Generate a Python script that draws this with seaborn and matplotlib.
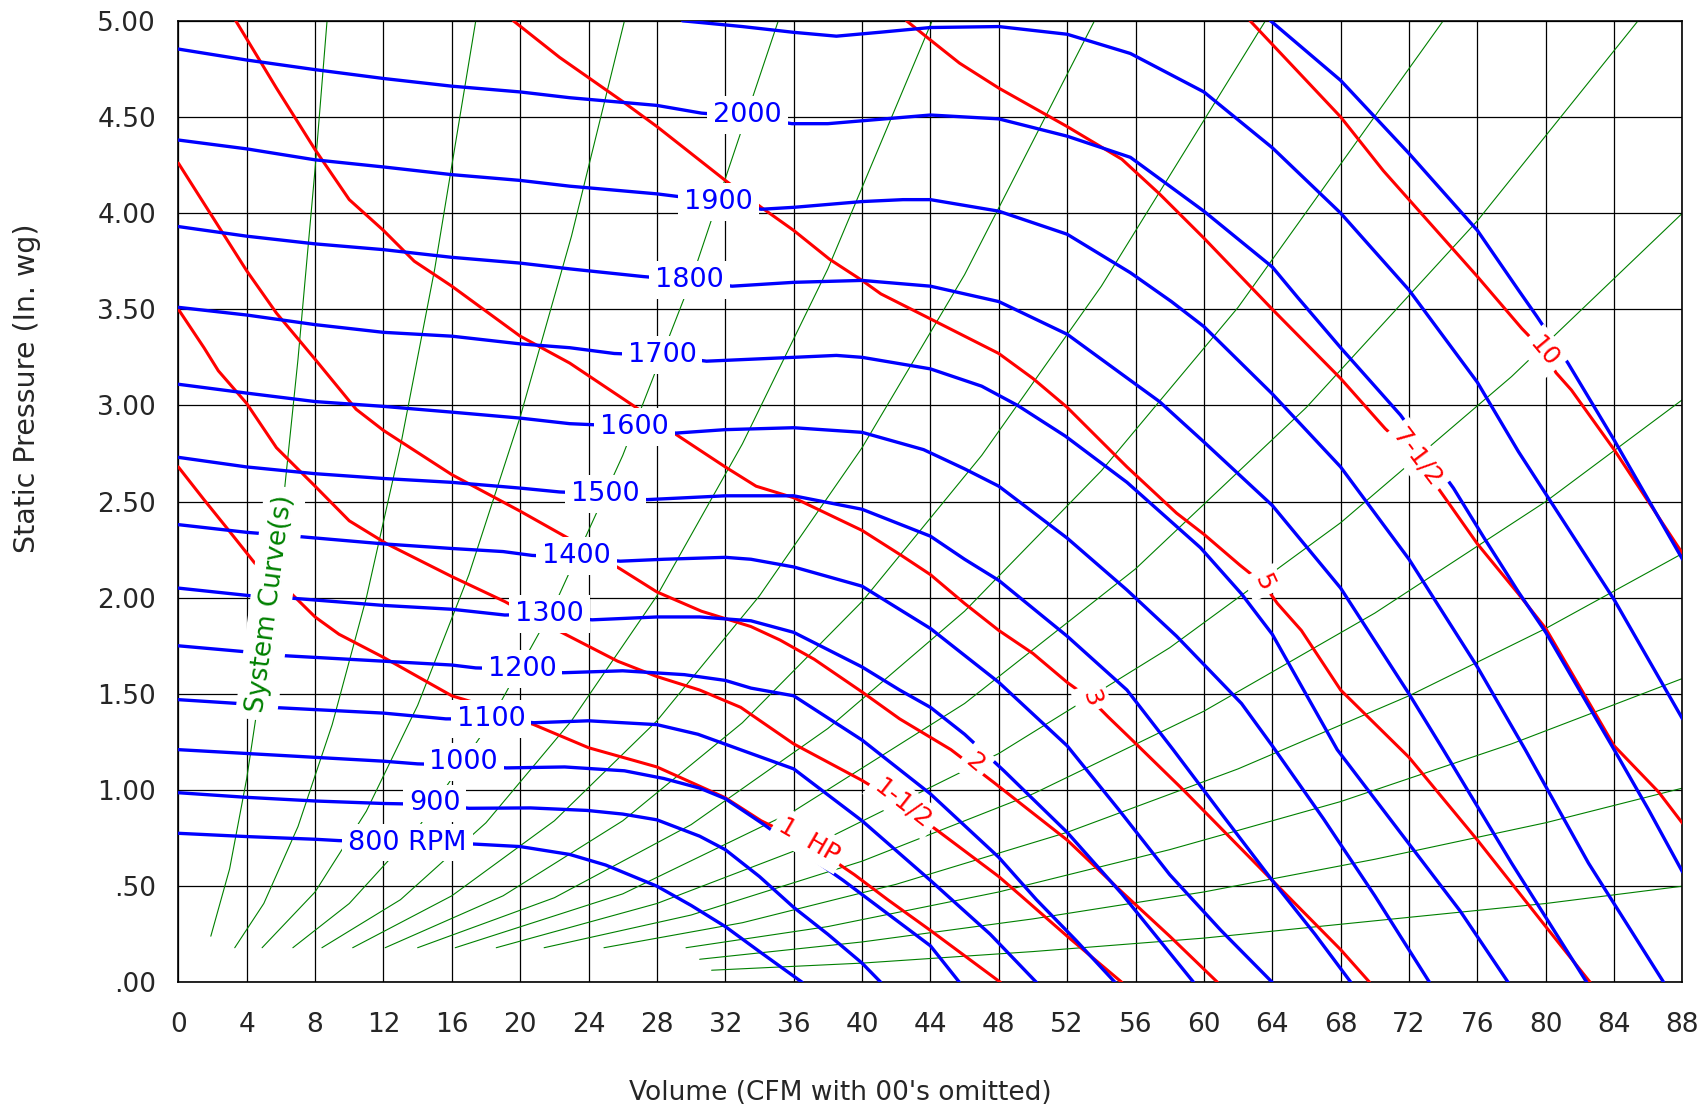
import matplotlib
matplotlib.use("Agg")
import matplotlib.pyplot as plt
import numpy as np
import pandas as pd
import seaborn as sns

# fan curves (RPM) - volume in CFM/100, static pressure in in. wg
rpm_labels = ["800 RPM", "900", "1000", "1100", "1200", "1300", "1400",
              "1500", "1600", "1700", "1800", "1900", "2000"]
rpm_label_u = [13.4, 15.0, 16.7, 18.3, 20.1, 21.7, 23.3, 25.0, 26.7, 28.3, 29.9, 31.6, 33.3]
rpm_label_p = [0.727, 0.93, 1.145, 1.37, 1.63, 1.915, 2.215, 2.54, 2.89, 3.26, 3.65, 4.06, 4.51]

rpm_u = [
    [0, 4, 8, 9.4, 13.4, 17.1, 20, 22.9, 25, 28, 30, 32, 34, 36.5],
    [0, 4, 8, 12, 15, 17, 20.6, 23.9, 26, 28, 30.5, 32, 34, 36, 38, 40, 41.1],
    [0, 4, 8, 12, 14, 16.7, 19.2, 22.6, 26.1, 28.4, 30.5, 32, 34.1, 36.5, 38.9, 41, 44, 45.7],
    [0, 3.5, 5.4, 12, 15.65, 18.3, 20.8, 24, 28, 30.4, 33.5, 36, 40, 44, 47.5, 50.2],
    [0, 3.8, 5.9, 12, 16, 17.4, 20, 22.5, 26, 29.6, 32, 33.5, 36, 40, 44, 48, 50.2, 52.5, 54.8],
    [0, 4.25, 6.3, 12, 16, 19.1, 21.6, 24.2, 28, 30.5, 33.5, 36, 40, 42.2, 44, 46, 48.3, 52, 55.2, 59.4],
    [0, 4, 6.8, 12, 16, 19, 20.7, 23.3, 25.85, 28.4, 32, 33.5, 36, 40, 44, 48, 52, 55, 58, 61, 64],
    [0, 4, 8, 12, 16, 20, 22.3, 25, 27.4, 32, 36, 40, 44, 46, 48, 52, 55.5, 58.2, 61, 64, 66.5, 68.6],
    [0, 4, 8, 12, 16, 20, 22.9, 26.7, 29.1, 32, 36, 40, 43.6, 46, 48, 52, 55.5, 58.4, 62.2, 64, 67, 70, 73.2],
    [0, 4, 8, 12, 16, 20, 22.9, 25.5, 28.3, 30.9, 36, 38.5, 40, 44, 47, 49.1, 51.9, 55.5, 59.8, 62.2,
     64, 67.8, 72, 75, 77.8],
    [0, 4, 8, 12, 16, 20, 22.9, 27.2, 29.9, 32.4, 36, 40, 44, 48, 52, 55.7, 57.4, 60, 64, 68, 72, 74,
     78, 82.4],
    [0, 4, 8, 12, 16, 20, 22.9, 28, 31.6, 34.1, 36, 40, 42.4, 44, 48, 52, 55.7, 58.1, 60, 63.2, 64, 68,
     72, 74.5, 76, 78.8, 82.5, 86.9],
    [0, 4, 8, 12, 16, 20, 22.9, 28, 30.6, 33.3, 35.9, 38, 40, 44, 48, 52, 55.7, 60, 64, 65.5, 68, 71.5,
     74.6, 76.4, 78.4, 80, 84, 86, 88],
    [29.5, 33, 36, 38.5, 41, 44, 48, 52, 55.7, 60, 64, 68, 72, 76, 78.4, 80, 84, 88],
    [63.9, 68, 72, 76, 78.4, 79.5, 81.3, 84, 88],
]
rpm_p = [
    [0.775, 0.758, 0.744, 0.737, 0.728, 0.72, 0.706, 0.665, 0.61, 0.50, 0.40, 0.29, 0.16, 0.0],
    [0.986, 0.962, 0.943, 0.93, 0.925, 0.905, 0.907, 0.894, 0.875, 0.845, 0.76, 0.69, 0.55, 0.39,
     0.25, 0.10, 0.0],
    [1.21, 1.19, 1.17, 1.15, 1.136, 1.13, 1.115, 1.12, 1.10, 1.06, 1.01, 0.955, 0.83, 0.68, 0.53,
     0.39, 0.19, 0.0],
    [1.47, 1.45, 1.43, 1.40, 1.37, 1.37, 1.35, 1.36, 1.34, 1.29, 1.19, 1.11, 0.84, 0.53, 0.25, 0.0],
    [1.75, 1.72, 1.70, 1.67, 1.65, 1.635, 1.63, 1.61, 1.62, 1.60, 1.57, 1.53, 1.49, 1.26, 0.98,
     0.65, 0.43, 0.22, 0.0],
    [2.05, 2.01, 2.0, 1.96, 1.94, 1.91, 1.915, 1.885, 1.90, 1.90, 1.88, 1.82, 1.64, 1.52, 1.43,
     1.29, 1.10, 0.78, 0.46, 0.0],
    [2.38, 2.34, 2.32, 2.28, 2.256, 2.24, 2.22, 2.21, 2.19, 2.20, 2.21, 2.20, 2.16, 2.06, 1.84,
     1.56, 1.23, 0.90, 0.56, 0.27, 0.0],
    [2.73, 2.68, 2.645, 2.62, 2.60, 2.57, 2.55, 2.54, 2.51, 2.53, 2.53, 2.46, 2.32, 2.20, 2.09,
     1.80, 1.52, 1.21, 0.88, 0.53, 0.25, 0.0],
    [3.11, 3.064, 3.02, 2.995, 2.965, 2.934, 2.905, 2.89, 2.856, 2.874, 2.884, 2.86, 2.77, 2.67,
     2.58, 2.31, 2.04, 1.80, 1.45, 1.23, 0.85, 0.45, 0.0],
    [3.51, 3.47, 3.42, 3.38, 3.36, 3.32, 3.30, 3.27, 3.26, 3.23, 3.25, 3.26, 3.25, 3.19, 3.10, 3.0,
     2.84, 2.60, 2.26, 2.02, 1.81, 1.21, 0.72, 0.37, 0.0],
    [3.93, 3.88, 3.84, 3.81, 3.77, 3.74, 3.71, 3.67, 3.65, 3.62, 3.64, 3.65, 3.62, 3.54, 3.37, 3.13,
     3.02, 2.81, 2.48, 2.05, 1.50, 1.21, 0.62, 0.0],
    [4.38, 4.334, 4.277, 4.24, 4.20, 4.17, 4.14, 4.10, 4.06, 4.02, 4.03, 4.06, 4.07, 4.07, 4.01,
     3.89, 3.69, 3.54, 3.41, 3.13, 3.06, 2.68, 2.20, 1.85, 1.64, 1.21, 0.62, 0.0],
    [4.853, 4.796, 4.746, 4.70, 4.66, 4.63, 4.60, 4.56, 4.52, 4.50, 4.465, 4.465, 4.48, 4.51, 4.49,
     4.40, 4.29, 4.01, 3.72, 3.56, 3.30, 2.95, 2.57, 2.31, 2.03, 1.82, 1.21, 0.90, 0.574],
    [5.0, 4.97, 4.94, 4.92, 4.94, 4.965, 4.97, 4.93, 4.83, 4.63, 4.34, 4.00, 3.60, 3.12, 2.76, 2.54,
     1.99, 1.37],
    [5.0, 4.69, 4.31, 3.91, 3.60, 3.46, 3.22, 2.82, 2.20],
]

# brake horsepower curves
hp_labels = ["1  HP", "1-1/2", "2", "3", "5", "7-1/2", "10"]
hp_label_u = [36.9, 42.4, 46.6, 53.4, 63.5, 72.5, 79.9]
hp_label_p = [0.74, 0.93, 1.14, 1.48, 2.08, 2.73, 3.28]
hp_label_rot = [-30, -38, -40, -70, -65, -53, -50]

hp_u = [
    [0, 1.5, 2.77, 4.47, 6.4, 8, 9.4, 12, 16, 17.5, 20.8, 24, 28, 30.5, 32, 34.1, 36.9, 39.55,
     41.5, 44, 48.1],
    [0, 1.5, 2.34, 4, 5.74, 8, 10, 12.2, 16, 19.1, 22.2, 25.7, 28, 30.5, 32.9, 36, 40, 42.4, 44.4,
     48, 49.3, 52, 55.2],
    [0, 1.5, 4, 5.74, 8, 10.4, 12, 16, 20, 22.8, 25.85, 28, 30.6, 33.5, 35.2, 37.2, 40, 42.2, 45.2,
     47.7, 52, 55.2, 58, 60.8],
    [3.36, 5.74, 8, 10, 12, 13.8, 16, 20, 22.9, 26.6, 29.1, 32, 33.8, 36, 40, 42.3, 44, 46, 48, 50,
     52, 53.4, 54.4, 55.8, 58.8, 64, 68, 69.7],
    [19.6, 22.3, 26, 28, 32, 34.1, 36, 38.1, 40, 41.1, 44, 48, 50, 52, 55.5, 58.4, 60, 62.1, 63.5,
     64.3, 65.7, 68, 72, 76, 80, 82.6],
    [42.6, 44, 45.7, 48, 52, 55.2, 57.4, 60, 64, 68, 70.6, 72.5, 74.1, 76, 78.4, 80, 84, 86.6, 88],
    [62.7, 68, 70.5, 72, 76, 78.6, 79.9, 80.6, 81.5, 84, 88],
]
hp_p = [
    [2.68, 2.51, 2.37, 2.18, 2.04, 1.90, 1.81, 1.69, 1.49, 1.45, 1.34, 1.22, 1.12, 1.02, 0.96,
     0.84, 0.72, 0.56, 0.43, 0.27, 0.0],
    [3.50, 3.30, 3.18, 3.01, 2.78, 2.58, 2.40, 2.28, 2.11, 1.98, 1.83, 1.67, 1.59, 1.52, 1.43,
     1.24, 1.05, 0.92, 0.79, 0.55, 0.45, 0.24, 0.0],
    [4.26, 4.05, 3.70, 3.48, 3.24, 2.98, 2.87, 2.64, 2.45, 2.31, 2.15, 2.03, 1.93, 1.85, 1.78,
     1.68, 1.51, 1.37, 1.21, 1.04, 0.74, 0.47, 0.24, 0.0],
    [5.0, 4.65, 4.33, 4.07, 3.91, 3.75, 3.62, 3.36, 3.22, 3.0, 2.85, 2.68, 2.58, 2.52, 2.35, 2.22,
     2.12, 1.97, 1.83, 1.71, 1.56, 1.47, 1.38, 1.26, 1.0, 0.53, 0.17, 0.0],
    [5.0, 4.81, 4.58, 4.45, 4.17, 4.03, 3.91, 3.76, 3.65, 3.58, 3.45, 3.27, 3.14, 2.99, 2.68, 2.44,
     2.33, 2.17, 2.07, 1.97, 1.83, 1.52, 1.17, 0.74, 0.29, 0.0],
    [5.0, 4.90, 4.78, 4.65, 4.45, 4.28, 4.10, 3.87, 3.50, 3.14, 2.88, 2.72, 2.52, 2.28, 2.02, 1.84,
     1.23, 0.99, 0.827],
    [5.0, 4.50, 4.22, 4.07, 3.67, 3.40, 3.28, 3.17, 3.08, 2.77, 2.23],
]

# system curves
sys_u = [
    [1.9, 3, 4, 5, 6, 7, 8, 8.7],
    [3.3, 5, 7, 9, 11, 13, 15, 17.4],
    [4.9, 8, 11, 14, 17, 20, 23, 26.1],
    [6.7, 10, 14, 18, 22, 26, 30, 35.1],
    [8.4, 13, 18, 23, 28, 33, 38, 44.1],
    [10.2, 16, 22, 28, 34, 40, 46, 53.6],
    [12.1, 19, 26, 33, 40, 47, 54, 63.6],
    [14, 22, 30, 38, 46, 54, 62, 74],
    [16.2, 26, 36, 46, 56, 66, 76, 85.4],
    [18.6, 28, 38, 48, 58, 68, 78, 88],
    [21.4, 30, 40, 50, 60, 70, 80, 88],
    [24.9, 33, 42, 52, 62, 72, 80, 88],
    [29.7, 38, 48, 58, 68, 78, 88],
    [30.5, 40, 50, 60, 70, 80, 88],
    [31.2, 40, 50, 60, 70, 80, 88],
]
sys_p = [
    [0.24, 0.59, 1.06, 1.65, 2.38, 3.24, 4.23, 5.0],
    [0.18, 0.41, 0.81, 1.34, 2.0, 2.79, 3.71, 5.0],
    [0.18, 0.47, 0.89, 1.44, 2.12, 2.94, 3.88, 5.0],
    [0.18, 0.41, 0.80, 1.32, 1.96, 2.74, 3.65, 5.0],
    [0.18, 0.43, 0.83, 1.36, 2.01, 2.80, 3.71, 5.0],
    [0.18, 0.45, 0.84, 1.36, 2.01, 2.78, 3.68, 5.0],
    [0.18, 0.45, 0.84, 1.35, 1.98, 2.74, 3.62, 5.0],
    [0.18, 0.44, 0.82, 1.32, 1.93, 2.66, 3.51, 5.0],
    [0.18, 0.46, 0.89, 1.45, 2.15, 2.99, 3.96, 5.0],
    [0.18, 0.41, 0.75, 1.19, 1.74, 2.39, 3.15, 4.0],
    [0.18, 0.35, 0.63, 0.98, 1.41, 1.92, 2.50, 3.03],
    [0.18, 0.31, 0.51, 0.78, 1.11, 1.49, 1.84, 2.23],
    [0.18, 0.29, 0.47, 0.69, 0.94, 1.24, 1.58],
    [0.12, 0.21, 0.33, 0.47, 0.64, 0.83, 1.01],
    [0.063, 0.10, 0.16, 0.23, 0.32, 0.41, 0.50],
]

x_ticks = list(range(0, 89, 4))
y_ticks = [0.0, 0.5, 1.0, 1.5, 2.0, 2.5, 3.0, 3.5, 4.0, 4.5, 5.0]
y_tick_labels = [".00", ".50", "1.00", "1.50", "2.00", "2.50", "3.00", "3.50", "4.00", "4.50", "5.00"]


def long_form(us, ps):
    rows = []
    for i, (u, p) in enumerate(zip(us, ps)):
        for a, b in zip(u, p):
            rows.append((i, a, b))
    return pd.DataFrame(rows, columns=["curve", "cfm", "sp"])


sns.set_style("white")
plt.rcParams["font.family"] = ["DejaVu Sans"]

fig = plt.figure(figsize=(17.05, 11.12), dpi=100)
ax = fig.add_axes([0.1046, 0.1166, 0.8822, 0.8647])

sns.lineplot(data=long_form(sys_u, sys_p), x="cfm", y="sp", units="curve", estimator=None,
             sort=False, color="#008000", linewidth=0.8, ax=ax, legend=False, zorder=2)
sns.lineplot(data=long_form(hp_u, hp_p), x="cfm", y="sp", units="curve", estimator=None,
             sort=False, color="#ff0000", linewidth=2.2, ax=ax, legend=False, zorder=3)
sns.lineplot(data=long_form(rpm_u, rpm_p), x="cfm", y="sp", units="curve", estimator=None,
             sort=False, color="#0000ff", linewidth=2.4, ax=ax, legend=False, zorder=4)

box = dict(boxstyle="square,pad=0.22", fc="white", ec="none")
for lab, u, p in zip(rpm_labels, rpm_label_u, rpm_label_p):
    ax.text(u, p, lab, color="#0000ff", fontsize=19.5, ha="center", va="center",
            bbox=box, zorder=6)
for lab, u, p, r in zip(hp_labels, hp_label_u, hp_label_p, hp_label_rot):
    ax.text(u, p, lab, color="#ff0000", fontsize=18, ha="center", va="center",
            rotation=r, rotation_mode="anchor", bbox=box, zorder=6)
ax.text(5.4, 1.97, "System Curve(s)", color="#008000", fontsize=19, ha="center", va="center",
        rotation=82.5, rotation_mode="anchor", bbox=dict(boxstyle="square,pad=0.3", fc="white", ec="none"),
        zorder=6)

ax.set_xlim(0, 88)
ax.set_ylim(0, 5)
ax.set_xticks(x_ticks)
ax.set_xticks(list(range(2, 88, 4)), minor=True)
ax.set_yticks(y_ticks)
ax.set_yticklabels(y_tick_labels)
ax.set_yticks([v / 10 for v in range(1, 50) if v % 5], minor=True)
ax.tick_params(which="major", direction="inout", length=30, width=1.2, labelsize=19, color="black")
ax.tick_params(axis="x", which="major", pad=6)
ax.tick_params(axis="y", which="major", pad=1)
ax.tick_params(which="minor", direction="inout", length=15, width=1.0, color="black")
ax.grid(which="major", color="black", linewidth=0.9)
ax.set_axisbelow(True)
for s in ax.spines.values():
    s.set_color("black")
    s.set_linewidth(1.2)
ax.set_xlabel("")
ax.set_ylabel("")

fig.text(0.016, 0.651, "Static Pressure (In. wg)", rotation=90, ha="center", va="center", fontsize=20.5)
fig.text(0.493, 0.017, "Volume (CFM with 00's omitted)", ha="center", va="center", fontsize=19)

fig.savefig("out.png", dpi=100)
